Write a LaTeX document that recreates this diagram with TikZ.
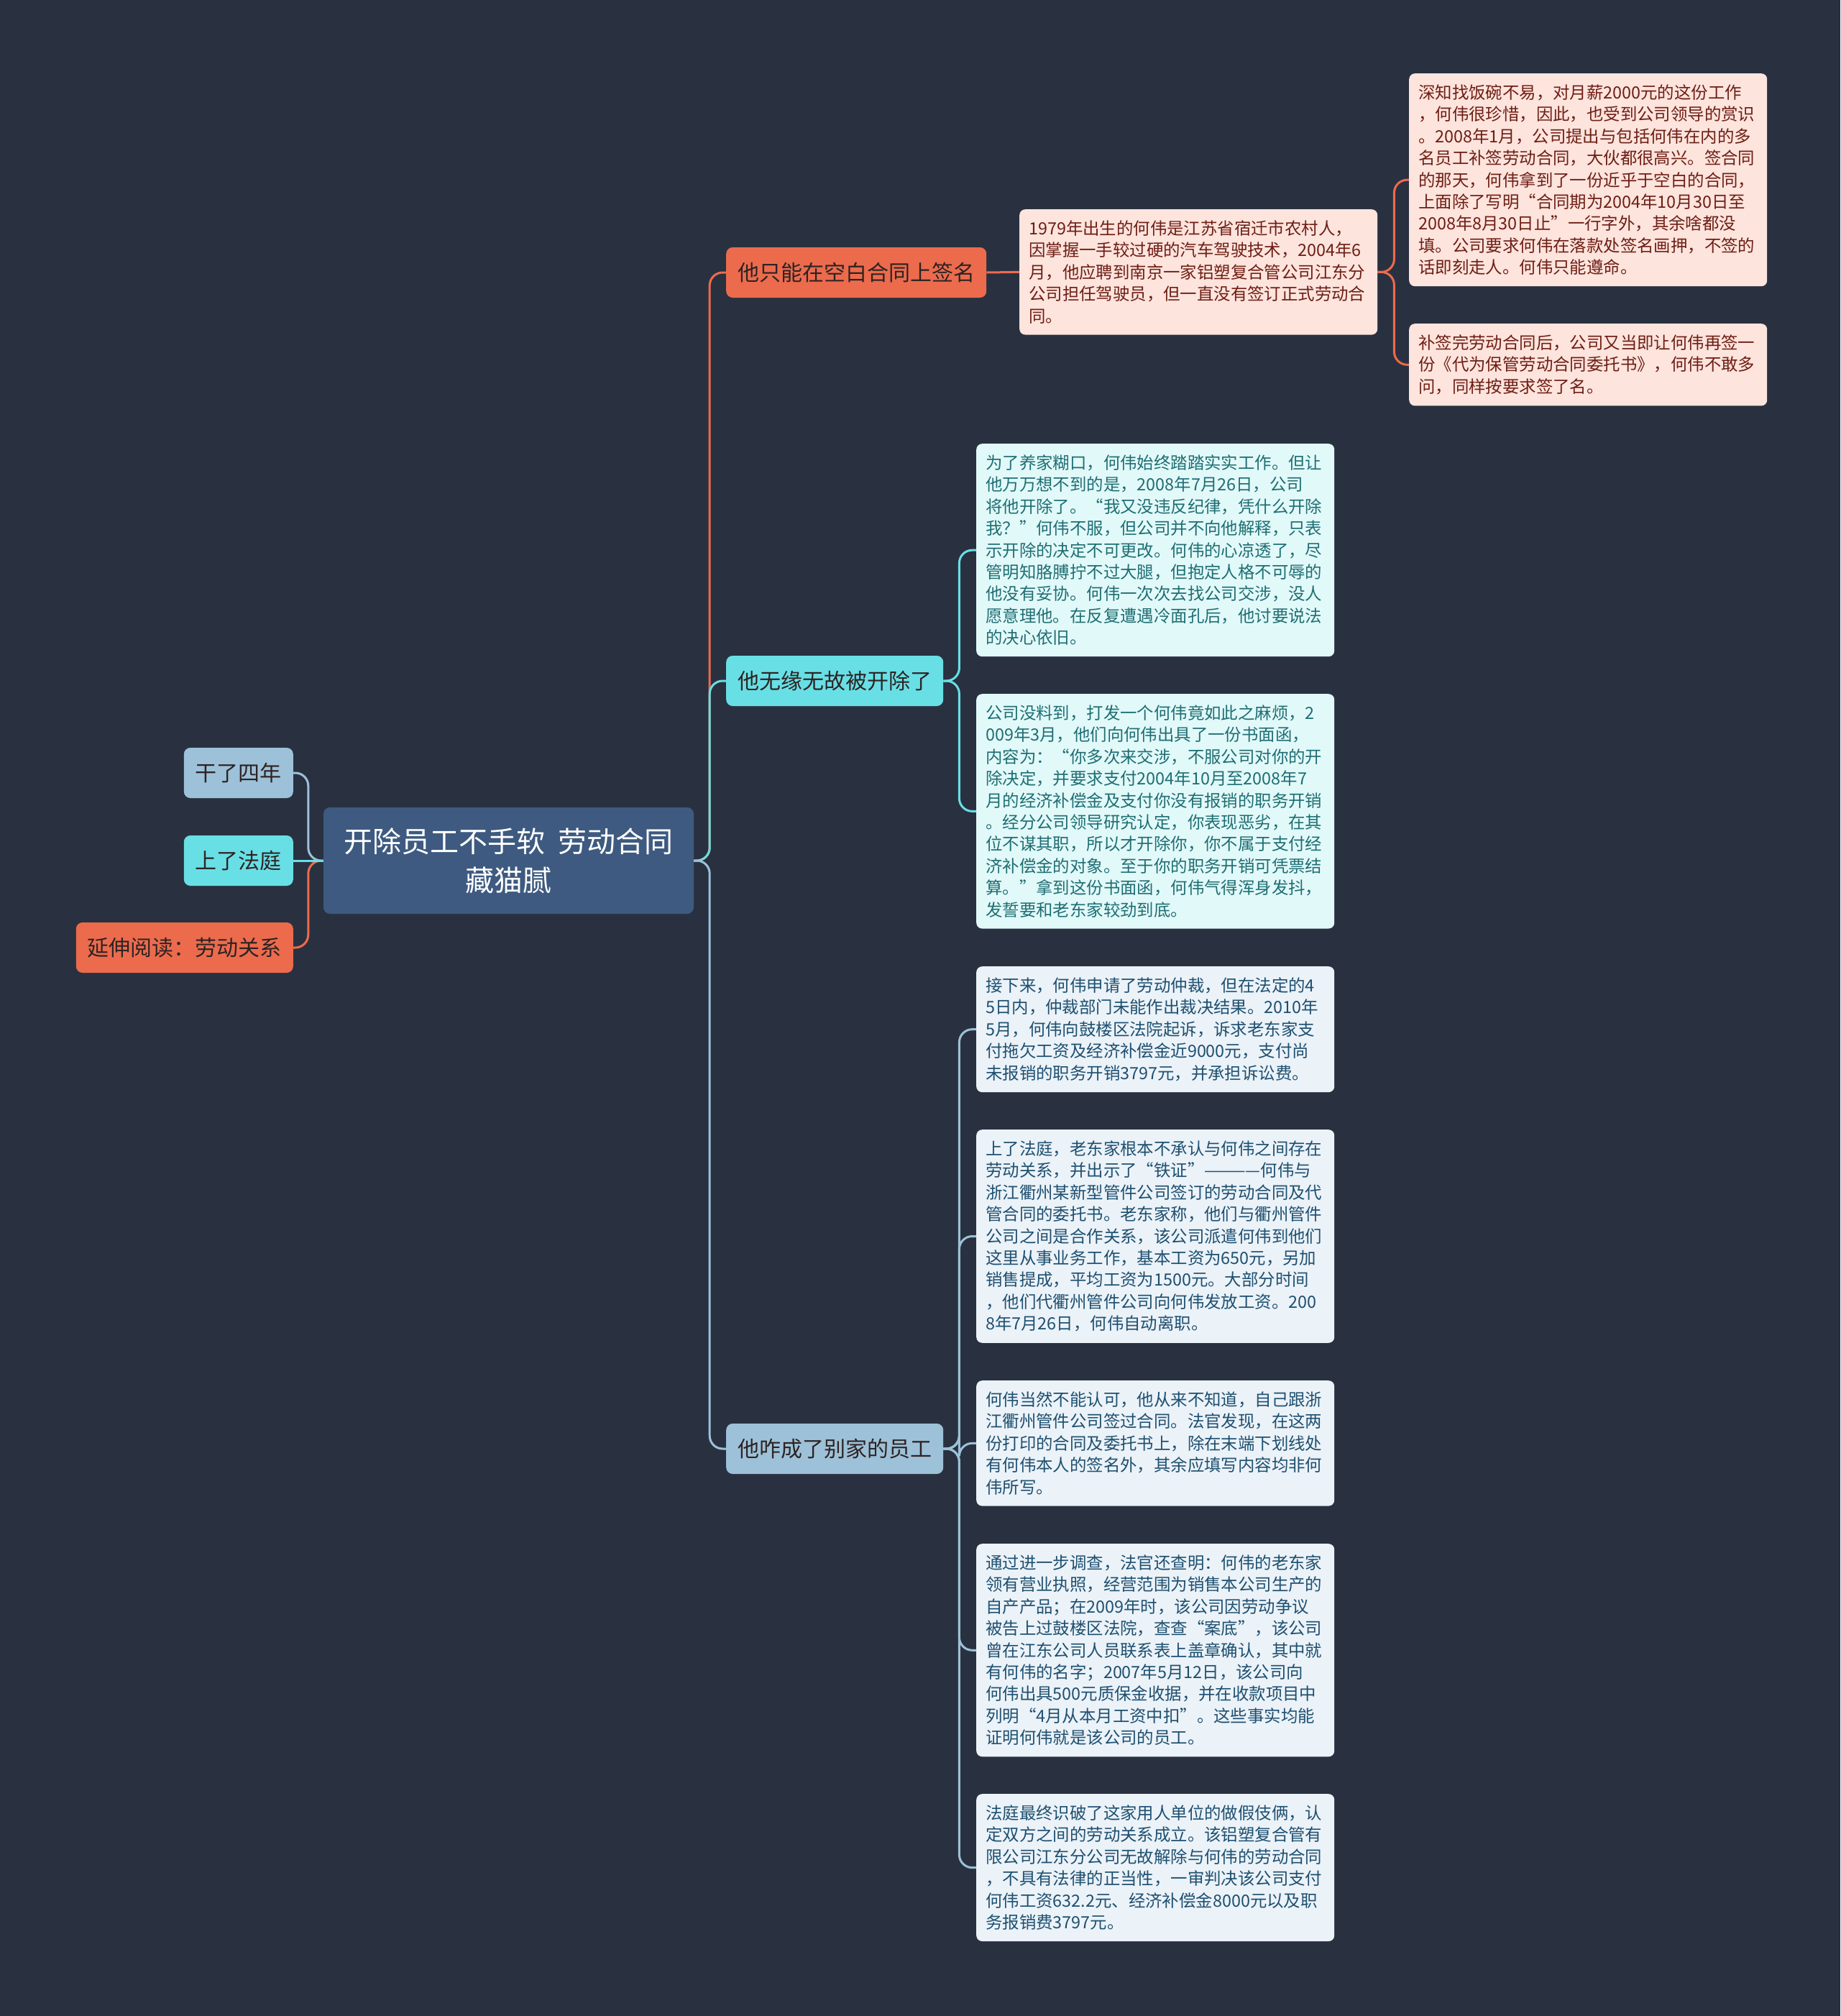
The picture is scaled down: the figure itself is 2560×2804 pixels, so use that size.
\documentclass[tikz,border=0pt]{standalone}
\usepackage{fontspec}
\setmainfont{Noto Sans CJK SC}
\usepackage{tikz}
\definecolor{bgdark}{RGB}{41,49,64}
\definecolor{rootblue}{RGB}{62,90,128}
\definecolor{orangec}{RGB}{236,107,77}
\definecolor{cyanc}{RGB}{104,223,229}
\definecolor{bluec}{RGB}{157,193,216}
\definecolor{pinkleaf}{RGB}{253,228,221}
\definecolor{cyanleaf}{RGB}{226,249,249}
\definecolor{blueleaf}{RGB}{235,242,248}
\definecolor{pinktext}{RGB}{110,30,20}
\definecolor{cyantext}{RGB}{30,110,115}
\definecolor{bluetext}{RGB}{30,80,112}
\definecolor{darktext}{RGB}{45,35,35}
\tikzset{
  rootnode/.style={fill=rootblue, text=white, rounded corners=9pt, inner sep=0pt,
    minimum width=515pt, minimum height=148pt, align=center,
    font=\fontsize{40}{54}\selectfont},
  topic/.style={rounded corners=9pt, inner sep=0pt, inner xsep=16pt,
    minimum height=70pt, text=darktext, font=\fontsize{30}{36}\selectfont},
  leaf/.style={rounded corners=8pt, anchor=north west, text width=472pt, align=left,
    inner xsep=13pt, inner ysep=15.5pt, font=\fontsize{23.4}{30.4}\selectfont},
  pinkbox/.style={leaf, fill=pinkleaf, text=pinktext},
  cyanbox/.style={leaf, fill=cyanleaf, text=cyantext},
  bluebox/.style={leaf, fill=blueleaf, text=bluetext},
  link/.style={line width=3pt, rounded corners=18pt}
}
\begin{document}
\begin{tikzpicture}[x=1pt,y=-1pt]
  \useasboundingbox (0,0) rectangle (2560,2804);
  \fill[bgdark] (0,0) rectangle (2560,2804);

  % centre and left side
  \node[rootnode] (root) at (707.5,1197) {开除员工不手软~~劳动合同\\藏猫腻};
  \node[topic, fill=bluec, anchor=east] (four) at (408,1075) {干了四年};
  \node[topic, fill=cyanc, anchor=east] (court) at (408,1197) {上了法庭};
  \node[topic, fill=orangec, anchor=east] (more) at (408,1318) {延伸阅读：劳动关系};

  % main branches
  \node[topic, fill=orangec, anchor=west] (blank) at (1010,379) {他只能在空白合同上签名};
  \node[topic, fill=cyanc, anchor=west] (fired) at (1010,947) {他无缘无故被开除了};
  \node[topic, fill=bluec, anchor=west] (other) at (1010,2015) {他咋成了别家的员工};

  % leaves
  \node[pinkbox] (born) at (1418,291) {1979年出生的何伟是江苏省宿迁市农村人，\\
    因掌握一手较过硬的汽车驾驶技术，2004年6\\
    月，他应聘到南京一家铝塑复合管公司江东分\\
    公司担任驾驶员，但一直没有签订正式劳动合\\
    同。};
  \node[pinkbox] (job) at (1960,102) {深知找饭碗不易，对月薪2000元的这份工作\\
    ，何伟很珍惜，因此，也受到公司领导的赏识\\
    。2008年1月，公司提出与包括何伟在内的多\\
    名员工补签劳动合同，大伙都很高兴。签合同\\
    的那天，何伟拿到了一份近乎于空白的合同，\\
    上面除了写明“合同期为2004年10月30日至\\
    2008年8月30日止”一行字外，其余啥都没\\
    填。公司要求何伟在落款处签名画押，不签的\\
    话即刻走人。何伟只能遵命。};
  \node[pinkbox] (proxy) at (1960,450) {补签完劳动合同后，公司又当即让何伟再签一\\
    份《代为保管劳动合同委托书》，何伟不敢多\\
    问，同样按要求签了名。};

  \node[cyanbox] (work) at (1358,617) {为了养家糊口，何伟始终踏踏实实工作。但让\\
    他万万想不到的是，2008年7月26日，公司\\
    将他开除了。“我又没违反纪律，凭什么开除\\
    我？”何伟不服，但公司并不向他解释，只表\\
    示开除的决定不可更改。何伟的心凉透了，尽\\
    管明知胳膊拧不过大腿，但抱定人格不可辱的\\
    他没有妥协。何伟一次次去找公司交涉，没人\\
    愿意理他。在反复遭遇冷面孔后，他讨要说法\\
    的决心依旧。};
  \node[cyanbox] (letter) at (1358,965) {公司没料到，打发一个何伟竟如此之麻烦，2\\
    009年3月，他们向何伟出具了一份书面函，\\
    内容为：“你多次来交涉，不服公司对你的开\\
    除决定，并要求支付2004年10月至2008年7\\
    月的经济补偿金及支付你没有报销的职务开销\\
    。经分公司领导研究认定，你表现恶劣，在其\\
    位不谋其职，所以才开除你，你不属于支付经\\
    济补偿金的对象。至于你的职务开销可凭票结\\
    算。”拿到这份书面函，何伟气得浑身发抖，\\
    发誓要和老东家较劲到底。};

  \node[bluebox] (sue) at (1358,1344) {接下来，何伟申请了劳动仲裁，但在法定的4\\
    5日内，仲裁部门未能作出裁决结果。2010年\\
    5月，何伟向鼓楼区法院起诉，诉求老东家支\\
    付拖欠工资及经济补偿金近9000元，支付尚\\
    未报销的职务开销3797元，并承担诉讼费。};
  \node[bluebox] (deny) at (1358,1571) {上了法庭，老东家根本不承认与何伟之间存在\\
    劳动关系，并出示了“铁证”————何伟与\\
    浙江衢州某新型管件公司签订的劳动合同及代\\
    管合同的委托书。老东家称，他们与衢州管件\\
    公司之间是合作关系，该公司派遣何伟到他们\\
    这里从事业务工作，基本工资为650元，另加\\
    销售提成，平均工资为1500元。大部分时间\\
    ，他们代衢州管件公司向何伟发放工资。200\\
    8年7月26日，何伟自动离职。};
  \node[bluebox] (sign) at (1358,1920) {何伟当然不能认可，他从来不知道，自己跟浙\\
    江衢州管件公司签过合同。法官发现，在这两\\
    份打印的合同及委托书上，除在末端下划线处\\
    有何伟本人的签名外，其余应填写内容均非何\\
    伟所写。};
  \node[bluebox] (proof) at (1358,2147) {通过进一步调查，法官还查明：何伟的老东家\\
    领有营业执照，经营范围为销售本公司生产的\\
    自产产品；在2009年时，该公司因劳动争议\\
    被告上过鼓楼区法院，查查“案底”，该公司\\
    曾在江东公司人员联系表上盖章确认，其中就\\
    有何伟的名字；2007年5月12日，该公司向\\
    何伟出具500元质保金收据，并在收款项目中\\
    列明“4月从本月工资中扣”。这些事实均能\\
    证明何伟就是该公司的员工。};
  \node[bluebox] (verdict) at (1358,2495) {法庭最终识破了这家用人单位的做假伎俩，认\\
    定双方之间的劳动关系成立。该铝塑复合管有\\
    限公司江东分公司无故解除与何伟的劳动合同\\
    ，不具有法律的正当性，一审判决该公司支付\\
    何伟工资632.2元、经济补偿金8000元以及职\\
    务报销费3797元。};

  % connectors
  \draw[link, bluec] (root.west) -- ++(-21,0) |- (four.east);
  \draw[link, orangec] (root.west) -- ++(-21,0) |- (more.east);
  \draw[link, cyanc] (root.west) -- (court.east);

  \draw[link, orangec] (root.east) -- ++(22,0) |- (blank.west);
  \draw[link, cyanc] (root.east) -- ++(22,0) |- (fired.west);
  \draw[link, bluec] (root.east) -- ++(22,0) |- (other.west);

  \draw[link, orangec] (blank.east) -- (born.west);
  \draw[link, orangec] (born.east) -- ++(23,0) |- (job.west);
  \draw[link, orangec] (born.east) -- ++(23,0) |- (proxy.west);

  \foreach \leafname in {work, letter}
    \draw[link, cyanc] (fired.east) -- ++(22,0) |- (\leafname.west);
  \foreach \leafname in {sue, deny, sign, proof, verdict}
    \draw[link, bluec] (other.east) -- ++(22,0) |- (\leafname.west);
\end{tikzpicture}
\end{document}
